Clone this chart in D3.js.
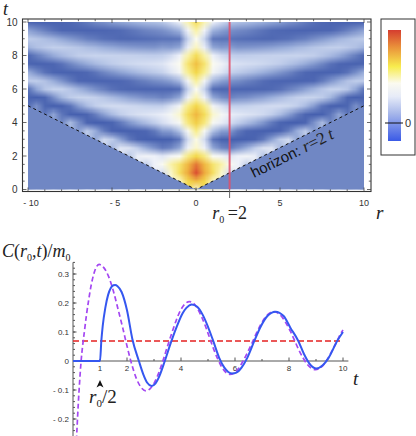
<!DOCTYPE html>
<html>
<head>
<meta charset="utf-8">
<script src="https://cdn.jsdelivr.net/npm/d3@7"></script>
<style>
    body { margin: 0; background: #fff; }
    svg { display: block; }
    .tickLabel { font-family: "Liberation Sans", "DejaVu Sans", sans-serif; fill: #333; }
    .math { font-family: "Liberation Serif", "DejaVu Serif", serif; fill: #222; }
</style>
</head>
<body>
<div id="chart"></div>
<script>
// ---- data ----

// density plot C(r,t): only r >= 0 is kept, the picture is mirror symmetric in r
const rGrid = d3.range(0, 10.01, 0.5);
const tGrid = d3.range(0, 10.01, 0.5);
// one row per t (0 .. 10), one column per r (0 .. 10); 0 outside the horizon
const heatValues = [
    [0.3, 0, 0, 0, 0, 0, 0, 0, 0, 0, 0, 0, 0, 0, 0, 0, 0, 0, 0, 0, 0],
    [0.5, 0.45, 0.3, 0, 0, 0, 0, 0, 0, 0, 0, 0, 0, 0, 0, 0, 0, 0, 0, 0, 0],
    [0.68, 0.55, 0.42, 0.3, 0.15, 0, 0, 0, 0, 0, 0, 0, 0, 0, 0, 0, 0, 0, 0, 0, 0],
    [0.62, 0.52, 0.4, 0.33, 0.26, 0.2, 0.12, 0, 0, 0, 0, 0, 0, 0, 0, 0, 0, 0, 0, 0, 0],
    [0.45, 0.37, 0.26, 0.22, 0.175, 0.2, 0.215, 0.19, 0.1, 0, 0, 0, 0, 0, 0, 0, 0, 0, 0, 0, 0],
    [0.3, 0.2, 0.05, 0.0, -0.015, 0.02, 0.06, 0.115, 0.166, 0.172, 0.08, 0, 0, 0, 0, 0, 0, 0, 0, 0, 0],
    [0.28, 0.15, -0.02, -0.07, -0.08, -0.085, -0.078, -0.057, -0.017, 0.043, 0.111, 0.145, 0.05, 0, 0, 0, 0, 0, 0, 0, 0],
    [0.36, 0.25, 0.1, 0.04, 0.03, -0.018, -0.043, -0.066, -0.081, -0.084, -0.062, -0.013, 0.059, 0.113, 0.03, 0, 0, 0, 0, 0, 0],
    [0.47, 0.38, 0.25, 0.19, 0.155, 0.117, 0.089, 0.058, 0.023, -0.017, -0.053, -0.079, -0.083, -0.052, 0.015, 0.079, 0.0, 0, 0, 0, 0],
    [0.52, 0.43, 0.3, 0.24, 0.193, 0.18, 0.169, 0.159, 0.142, 0.117, 0.083, 0.039, -0.011, -0.057, -0.084, -0.073, -0.021, 0.044, -0.02, 0, 0],
    [0.45, 0.36, 0.22, 0.16, 0.118, 0.119, 0.124, 0.134, 0.143, 0.149, 0.15, 0.141, 0.119, 0.083, 0.033, -0.024, -0.072, -0.083, -0.048, 0.015, -0.03],
    [0.32, 0.2, 0.05, 0.01, -0.005, 0.007, 0.013, 0.028, 0.042, 0.062, 0.082, 0.103, 0.121, 0.131, 0.129, 0.113, 0.075, 0.013, -0.051, -0.085, -0.064],
    [0.27, 0.13, -0.03, -0.04, -0.042, -0.045, -0.05, -0.047, -0.047, -0.037, -0.028, -0.009, 0.012, 0.041, 0.07, 0.101, 0.124, 0.124, 0.102, 0.046, -0.025],
    [0.34, 0.22, 0.08, 0.04, 0.02, 0.009, -0.006, -0.018, -0.033, -0.043, -0.055, -0.06, -0.064, -0.055, -0.043, -0.016, 0.02, 0.058, 0.096, 0.116, 0.115],
    [0.45, 0.35, 0.22, 0.17, 0.125, 0.11, 0.096, 0.081, 0.062, 0.043, 0.021, 0.0, -0.023, -0.042, -0.061, -0.07, -0.068, -0.054, -0.026, 0.012, 0.058],
    [0.5, 0.4, 0.27, 0.21, 0.17, 0.16, 0.154, 0.148, 0.139, 0.128, 0.115, 0.098, 0.08, 0.055, 0.029, 0.0, -0.027, -0.05, -0.066, -0.07, -0.057],
    [0.43, 0.33, 0.2, 0.15, 0.12, 0.115, 0.117, 0.12, 0.123, 0.126, 0.128, 0.128, 0.13, 0.123, 0.117, 0.099, 0.08, 0.054, 0.02, -0.012, -0.042],
    [0.31, 0.19, 0.05, 0.03, 0.035, 0.022, 0.024, 0.028, 0.034, 0.041, 0.052, 0.062, 0.078, 0.088, 0.103, 0.111, 0.118, 0.12, 0.108, 0.092, 0.067],
    [0.27, 0.13, -0.02, -0.025, -0.026, -0.03, -0.034, -0.036, -0.039, -0.039, -0.033, -0.029, -0.017, -0.008, 0.011, 0.029, 0.049, 0.071, 0.088, 0.104, 0.114],
    [0.33, 0.21, 0.07, 0.04, 0.015, 0.005, -0.003, -0.014, -0.026, -0.036, -0.042, -0.052, -0.055, -0.06, -0.057, -0.051, -0.045, -0.028, -0.009, 0.016, 0.042],
    [0.42, 0.32, 0.19, 0.14, 0.1, 0.088, 0.081, 0.069, 0.055, 0.043, 0.03, 0.013, 0.0, -0.017, -0.031, -0.042, -0.057, -0.063, -0.065, -0.061, -0.05]
];

const horizonSpeed = 2;   // horizon: r = 2t
const r0 = 2;             // the cut shown below

const rTicks = [-10, -5, 0, 5, 10];
const rTickLabels = ['- 10', '- 5', '0', '5', '10'];
const tTicksTop = [0, 2, 4, 6, 8, 10];

// lower plot: C(r0,t)/m0, exact (solid) and approximation (dashed)
const exactCurve = [
    [0, 0], [1, 0], [1.05, 0.07], [1.1, 0.12], [1.2, 0.185], [1.3, 0.228], [1.4, 0.252], [1.5, 0.261],
    [1.56, 0.262], [1.65, 0.258], [1.8, 0.238], [2.0, 0.175], [2.2, 0.075], [2.44, 0.0], [2.6, -0.045],
    [2.75, -0.075], [2.91, -0.086], [3.05, -0.078], [3.2, -0.052], [3.4, 0.0], [3.65, 0.07], [3.85, 0.12],
    [4.05, 0.163], [4.2, 0.183], [4.4, 0.195], [4.6, 0.187], [4.8, 0.16], [5.0, 0.118], [5.19, 0.07],
    [5.41, 0.012], [5.6, -0.022], [5.75, -0.038], [5.9, -0.043], [6.05, -0.04], [6.25, -0.022], [6.45, 0.01],
    [6.72, 0.07], [6.95, 0.118], [7.2, 0.155], [7.5, 0.17], [7.8, 0.155], [8.05, 0.115], [8.34, 0.07],
    [8.55, 0.025], [8.75, -0.008], [9.02, -0.026], [9.25, -0.015], [9.46, 0.01], [9.79, 0.07], [10.0, 0.1]
];
const approxCurve = [
    [0.1, -0.33], [0.15, -0.23], [0.2, -0.14], [0.25, -0.065], [0.3, 0.0], [0.36, 0.055], [0.42, 0.1],
    [0.5, 0.16], [0.58, 0.21], [0.67, 0.26], [0.77, 0.3], [0.87, 0.325], [0.97, 0.333], [1.14, 0.322],
    [1.32, 0.291], [1.49, 0.243], [1.66, 0.182], [1.84, 0.115], [2.01, 0.048], [2.18, -0.013], [2.35, -0.061],
    [2.53, -0.092], [2.7, -0.103], [2.86, -0.095], [3.02, -0.074], [3.18, -0.04], [3.34, 0.003], [3.5, 0.051],
    [3.67, 0.099], [3.83, 0.142], [3.99, 0.176], [4.15, 0.197], [4.31, 0.205], [4.46, 0.199], [4.61, 0.181],
    [4.76, 0.153], [4.91, 0.119], [5.06, 0.08], [5.21, 0.041], [5.36, 0.007], [5.51, -0.021], [5.66, -0.039],
    [5.81, -0.046], [5.97, -0.041], [6.14, -0.025], [6.3, 0.0], [6.46, 0.029], [6.63, 0.062], [6.79, 0.095],
    [6.95, 0.125], [7.11, 0.149], [7.28, 0.165], [7.44, 0.17], [7.59, 0.165], [7.75, 0.151], [7.9, 0.129],
    [8.06, 0.101], [8.21, 0.07], [8.36, 0.039], [8.52, 0.011], [8.67, -0.011], [8.83, -0.025], [8.98, -0.03],
    [9.14, -0.025], [9.29, -0.012], [9.45, 0.01], [9.6, 0.036], [9.76, 0.065], [9.91, 0.094], [10.0, 0.107]
];
const lateTimeMean = 0.069;

const tTicksMajor = [2, 4, 6, 8, 10];
const tTicksMinor = [1, 3, 5, 7, 9];
const tTickLabels = [1, 2, 4, 6, 8, 10];
const cTicks = [-0.2, -0.1, 0, 0.1, 0.2, 0.3];
const cTickLabels = ['- 0.2', '- 0.1', '0', '0.1', '0.2', '0.3'];

// ---- drawing ----

const width = 416;
const height = 436;

const svg = d3.select('#chart')
    .append('svg')
    .attr('width', width)
    .attr('height', height);

const defs = svg.append('defs');

// top panel scales
const xR = d3.scaleLinear().domain([-10, 10]).range([28, 364]);
const yT = d3.scaleLinear().domain([0, 10]).range([189.5, 22]);

const heatColor = d3.scaleLinear()
    .domain([-0.085, -0.04, 0, 0.06, 0.12, 0.2, 0.27, 0.35, 0.45, 0.55, 0.7])
    .range(['#4660af', '#4f68b3', '#7087c4', '#9aaedb', '#c3d0ec', '#eef1f9', '#fbfbf0', '#f8ef92', '#f3d84c', '#eeaa3e', '#d8432f'])
    .clamp(true);

// paint the grid one pixel per cell, then let the browser smooth it when scaled
const nCols = 2 * rGrid.length - 1;
const nRows = tGrid.length;
const canvas = document.createElement('canvas');
canvas.width = nCols;
canvas.height = nRows;
const ctx = canvas.getContext('2d');
const img = ctx.createImageData(nCols, nRows);
tGrid.forEach((t, i) => {
    const row = nRows - 1 - i;
    for (let c = 0; c < nCols; c++) {
        const j = Math.abs(c - (rGrid.length - 1));
        const r = rGrid[j];
        let v = heatValues[i][j];
        if (r > horizonSpeed * t) {
            // outside the cone: reuse the first value inside so the edge does not blur
            const k = tGrid.findIndex(tt => r <= horizonSpeed * tt);
            v = heatValues[k][j];
        }
        const col = d3.rgb(heatColor(v));
        const p = (row * nCols + c) * 4;
        img.data[p] = col.r;
        img.data[p + 1] = col.g;
        img.data[p + 2] = col.b;
        img.data[p + 3] = 255;
    }
});
ctx.putImageData(img, 0, 0);

defs.append('clipPath').attr('id', 'heatClip')
    .append('rect')
    .attr('x', xR(-10)).attr('y', yT(10))
    .attr('width', xR(10) - xR(-10)).attr('height', yT(0) - yT(10));

const heat = svg.append('g').attr('clip-path', 'url(#heatClip)');
const halfCell = 0.25;
heat.append('image')
    .attr('href', canvas.toDataURL())
    .attr('x', xR(-10 - halfCell))
    .attr('y', yT(10 + halfCell))
    .attr('width', xR(10 + halfCell) - xR(-10 - halfCell))
    .attr('height', yT(-halfCell) - yT(10 + halfCell))
    .attr('preserveAspectRatio', 'none');

// region outside the horizon: C = 0
const tEdge = 10 / horizonSpeed;
heat.append('path')
    .attr('d', d3.line()([
        [xR(-10), yT(0)], [xR(-10), yT(tEdge)], [xR(0), yT(0)], [xR(10), yT(tEdge)], [xR(10), yT(0)]
    ]))
    .attr('fill', heatColor(0));

heat.append('path')
    .attr('d', d3.line()([[xR(-10), yT(tEdge)], [xR(0), yT(0)], [xR(10), yT(tEdge)]]))
    .attr('fill', 'none')
    .attr('stroke', '#111')
    .attr('stroke-width', 1)
    .attr('stroke-dasharray', '3,3');

heat.append('line')
    .attr('x1', xR(r0)).attr('x2', xR(r0))
    .attr('y1', yT(10)).attr('y2', yT(0))
    .attr('stroke', '#e0506a')
    .attr('stroke-opacity', 0.85)
    .attr('stroke-width', 2);

// horizon label along the dashed line
const angle = Math.atan2(yT(tEdge) - yT(0), xR(10) - xR(0)) * 180 / Math.PI;
const hz = svg.append('text')
    .attr('transform', `translate(${xR(3.45)},${yT(0.68)}) rotate(${angle})`)
    .attr('fill', '#111');
hz.append('tspan').attr('class', 'tickLabel').style('fill', '#111').attr('font-size', 15).text('horizon: ');
hz.append('tspan').attr('class', 'math').attr('font-style', 'italic').attr('font-size', 17).text('r');
hz.append('tspan').attr('class', 'math').attr('font-size', 17).text('=2\u2009');
hz.append('tspan').attr('class', 'math').attr('font-style', 'italic').attr('font-size', 17).text('t');

// frame and frame ticks
const fx0 = 22.5, fx1 = 371, fy0 = 19, fy1 = 191.5;
svg.append('rect')
    .attr('x', fx0).attr('y', fy0)
    .attr('width', fx1 - fx0).attr('height', fy1 - fy0)
    .attr('fill', 'none')
    .attr('stroke', '#333')
    .attr('stroke-width', 1.1);

const tMinor = d3.range(0, 10.01, 0.5);
const rMinor = d3.range(-10, 10.01, 1);
const frameTicks = svg.append('g').attr('stroke', '#444').attr('stroke-width', 0.8);
tMinor.forEach(t => {
    const len = tTicksTop.includes(t) ? 4 : 2.2;
    frameTicks.append('line').attr('x1', fx0).attr('x2', fx0 + len).attr('y1', yT(t)).attr('y2', yT(t));
    frameTicks.append('line').attr('x1', fx1).attr('x2', fx1 - len).attr('y1', yT(t)).attr('y2', yT(t));
});
rMinor.forEach(r => {
    const len = rTicks.includes(r) ? 4 : 2.2;
    frameTicks.append('line').attr('x1', xR(r)).attr('x2', xR(r)).attr('y1', fy0).attr('y2', fy0 + len);
    frameTicks.append('line').attr('x1', xR(r)).attr('x2', xR(r)).attr('y1', fy1).attr('y2', fy1 - len);
});
// marker of r0 below the frame
svg.append('line')
    .attr('x1', xR(r0)).attr('x2', xR(r0))
    .attr('y1', fy1).attr('y2', fy1 + 6.5)
    .attr('stroke', '#666').attr('stroke-width', 1);

svg.selectAll('.tLabelTop')
    .data(tTicksTop)
    .enter().append('text')
    .attr('class', 'tickLabel')
    .attr('font-size', 10)
    .attr('text-anchor', 'end')
    .attr('x', 17.5)
    .attr('y', d => yT(d) + 3.5)
    .text(String);

svg.selectAll('.rLabel')
    .data(rTicks)
    .enter().append('text')
    .attr('class', 'tickLabel')
    .attr('font-size', 9)
    .attr('text-anchor', 'middle')
    .attr('x', d => xR(d) + (d < 0 ? 3 : 0))
    .attr('y', 206)
    .text((d, i) => rTickLabels[i]);

svg.append('text').attr('class', 'math').attr('font-style', 'italic').attr('font-size', 18)
    .attr('x', 3).attr('y', 15).text('t');
svg.append('text').attr('class', 'math').attr('font-style', 'italic').attr('font-size', 19)
    .attr('x', 376).attr('y', 219).text('r');

const r0Label = svg.append('text').attr('class', 'math').attr('font-size', 18)
    .attr('x', xR(r0)).attr('y', 219).attr('text-anchor', 'middle');
r0Label.append('tspan').attr('font-style', 'italic').text('r');
r0Label.append('tspan').attr('font-size', 10).attr('dy', 4).text('0');
r0Label.append('tspan').attr('dy', -4).text('\u2009=2');

// colour bar
const grad = defs.append('linearGradient')
    .attr('id', 'barGrad')
    .attr('x1', 0).attr('x2', 0).attr('y1', 0).attr('y2', 1);
[[0, '#d53d2f'], [0.15, '#e98f3a'], [0.33, '#f8ec4e'], [0.48, '#fbfaf0'], [0.6, '#e6ebf8'],
 [0.75, '#a8b8ea'], [1, '#3a5ae6']].forEach(s => {
    grad.append('stop').attr('offset', s[0]).attr('stop-color', s[1]);
});
svg.append('rect')
    .attr('x', 381).attr('y', 19).attr('width', 34).attr('height', 136)
    .attr('fill', '#fff').attr('stroke', '#333').attr('stroke-width', 1);
svg.append('rect')
    .attr('x', 388).attr('y', 30).attr('width', 13).attr('height', 111)
    .attr('fill', 'url(#barGrad)');
svg.append('line')
    .attr('x1', 385).attr('x2', 403).attr('y1', 123).attr('y2', 123)
    .attr('stroke', '#111').attr('stroke-width', 1);
svg.append('text').attr('class', 'tickLabel').attr('font-size', 11)
    .attr('x', 405).attr('y', 127).text('0');

// ---- lower panel ----
const xC = d3.scaleLinear().domain([0, 10]).range([73, 343]);
const yC = d3.scaleLinear().domain([0, 0.3]).range([361, 274]);

const axes = svg.append('g').attr('stroke', '#555').attr('stroke-width', 1);
axes.append('line').attr('x1', xC(0)).attr('x2', xC(10.2)).attr('y1', yC(0)).attr('y2', yC(0));
axes.append('line').attr('x1', xC(0)).attr('x2', xC(0)).attr('y1', yC(0.34)).attr('y2', height);

tTicksMajor.forEach(t => {
    axes.append('line').attr('x1', xC(t)).attr('x2', xC(t)).attr('y1', yC(0)).attr('y2', yC(0) - 3.5);
});
tTicksMinor.forEach(t => {
    axes.append('line').attr('x1', xC(t)).attr('x2', xC(t)).attr('y1', yC(0)).attr('y2', yC(0) - 2);
});
cTicks.forEach(c => {
    axes.append('line').attr('x1', xC(0)).attr('x2', xC(0) + 3.5).attr('y1', yC(c)).attr('y2', yC(c));
});
d3.range(-0.24, 0.341, 0.02).forEach(c => {
    axes.append('line').attr('x1', xC(0)).attr('x2', xC(0) + 2).attr('y1', yC(c)).attr('y2', yC(c));
});

svg.selectAll('.tLabel')
    .data(tTickLabels)
    .enter().append('text')
    .attr('class', 'tickLabel')
    .attr('font-size', 8)
    .attr('text-anchor', 'middle')
    .attr('x', d => xC(d))
    .attr('y', yC(0) + 10)
    .text(String);

svg.selectAll('.cLabel')
    .data(cTicks)
    .enter().append('text')
    .attr('class', 'tickLabel')
    .attr('font-size', 8)
    .attr('text-anchor', 'end')
    .attr('x', xC(0) - 4)
    .attr('y', d => yC(d) + 3)
    .text((d, i) => cTickLabels[i]);

defs.append('clipPath').attr('id', 'lowClip')
    .append('rect')
    .attr('x', xC(0)).attr('y', 250)
    .attr('width', xC(10.3) - xC(0)).attr('height', height - 250);

const lower = svg.append('g').attr('clip-path', 'url(#lowClip)');

const line = d3.line()
    .x(d => xC(d[0]))
    .y(d => yC(d[1]))
    .curve(d3.curveMonotoneX);

lower.append('line')
    .attr('x1', xC(0)).attr('x2', xC(10))
    .attr('y1', yC(lateTimeMean)).attr('y2', yC(lateTimeMean))
    .attr('stroke', '#e52222')
    .attr('stroke-width', 1.5)
    .attr('stroke-dasharray', '6,3');

lower.append('path')
    .datum(approxCurve)
    .attr('d', line)
    .attr('fill', 'none')
    .attr('stroke', '#a447f2')
    .attr('stroke-width', 1.7)
    .attr('stroke-dasharray', '5,3');

lower.append('path')
    .datum(exactCurve)
    .attr('d', line)
    .attr('fill', 'none')
    .attr('stroke', '#3557f0')
    .attr('stroke-width', 2);

// arrow marking r0/2
const ax = xC(r0 / horizonSpeed);
svg.append('path')
    .attr('d', `M${ax},380 L${ax + 3.5},387.5 L${ax},385.5 L${ax - 3.5},387.5 Z`)
    .attr('fill', '#111');

const halfLabel = svg.append('text').attr('class', 'math').attr('font-size', 19)
    .attr('x', ax - 11).attr('y', 403);
halfLabel.append('tspan').attr('font-style', 'italic').text('r');
halfLabel.append('tspan').attr('font-size', 11).attr('dy', 4).text('0');
halfLabel.append('tspan').attr('dy', -4).text('/2');

const yLabel = svg.append('text').attr('class', 'math').attr('font-size', 18)
    .attr('x', 2).attr('y', 257);
yLabel.append('tspan').attr('font-style', 'italic').text('C');
yLabel.append('tspan').text('(');
yLabel.append('tspan').attr('font-style', 'italic').text('r');
yLabel.append('tspan').attr('font-size', 10).attr('dy', 4).text('0');
yLabel.append('tspan').attr('dy', -4).text(',');
yLabel.append('tspan').attr('font-style', 'italic').text('t');
yLabel.append('tspan').text(')/');
yLabel.append('tspan').attr('font-style', 'italic').text('m');
yLabel.append('tspan').attr('font-size', 10).attr('dy', 4).text('0');

svg.append('text').attr('class', 'math').attr('font-style', 'italic').attr('font-size', 19)
    .attr('x', 353).attr('y', 385).text('t');
</script>
</body>
</html>
